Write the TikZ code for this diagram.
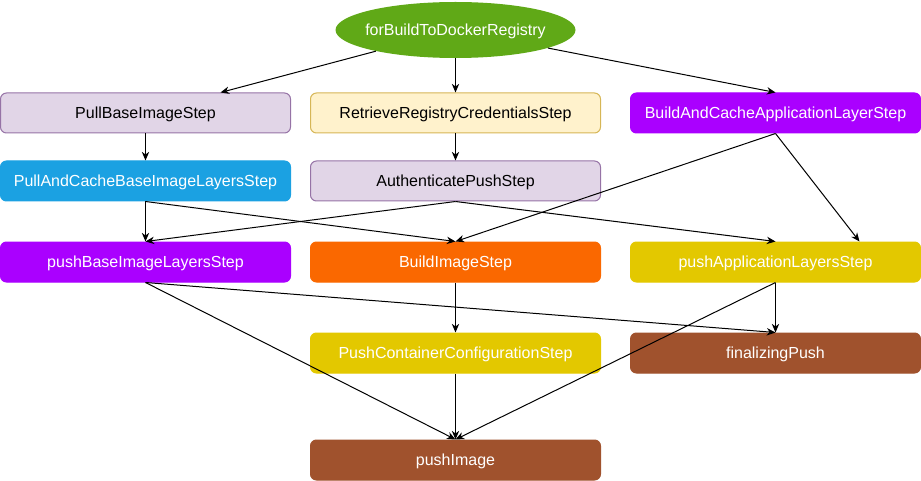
\documentclass[tikz,border=0pt]{standalone}
\usepackage{fontspec}
\setmainfont{Liberation Sans}
\usetikzlibrary{shapes.geometric,arrows.meta,calc}
\definecolor{cgreen}{HTML}{60A917}
\definecolor{cgreenS}{HTML}{2D7600}
\definecolor{clav}{HTML}{E1D5E7}
\definecolor{clavS}{HTML}{9673A6}
\definecolor{cyel}{HTML}{FFF2CC}
\definecolor{cyelS}{HTML}{D6B656}
\definecolor{cviol}{HTML}{AA00FF}
\definecolor{cblue}{HTML}{1BA1E2}
\definecolor{corange}{HTML}{FA6800}
\definecolor{cgold}{HTML}{E3C800}
\definecolor{cbrown}{HTML}{A0522D}
\begin{document}
\begin{tikzpicture}[x=0.75pt,y=-0.75pt,
  font=\fontsize{12pt}{14pt}\selectfont,
  every node/.style={text height=8.6pt,text depth=0pt},
  box/.style={rectangle,rounded corners=4.5pt,minimum width=217.5pt,minimum height=30pt,inner sep=0pt,line width=0.75pt},
  lightbox/.style={box,fill=#1,text=black},
  darkbox/.style={box,fill=#1,draw=#1,text=white},
  edge/.style={line width=0.75pt,-{Stealth[length=6.5pt,width=5.5pt,inset=2pt]}}]
\useasboundingbox (0,0) rectangle (921,481);
\node[ellipse,fill=cgreen,text=white,minimum width=180pt,minimum height=42pt,inner xsep=-8pt,inner ysep=0pt] (root) at (455.5,30) {forBuildToDockerRegistry};
\node[lightbox=clav,draw=clavS] (pbis) at (145.5,113) {PullBaseImageStep};
\node[lightbox=cyel,draw=cyelS] (rrcs) at (455.5,113) {RetrieveRegistryCredentialsStep};
\node[darkbox=cviol] (bacl) at (775.5,113) {BuildAndCacheApplicationLayerStep};
\node[darkbox=cblue] (pacb) at (145.5,181) {PullAndCacheBaseImageLayersStep};
\node[lightbox=clav,draw=clavS] (aps) at (455.5,181) {AuthenticatePushStep};
\node[darkbox=cviol] (pbil) at (145.5,262) {pushBaseImageLayersStep};
\node[darkbox=corange] (bis) at (455.5,262) {BuildImageStep};
\node[darkbox=cgold] (pal) at (775.5,262) {pushApplicationLayersStep};
\node[darkbox=cgold] (pccs) at (455.5,353) {PushContainerConfigurationStep};
\node[darkbox=cbrown] (fp) at (775.5,353) {finalizingPush};
\node[darkbox=cbrown] (pi) at (455.5,460) {pushImage};
\draw[edge] (root) -- ($(pbis.north)+(75,0)$);
\draw[edge] (root) -- (rrcs.north);
\draw[edge] (root) -- (bacl.north);
\draw[edge] (pbis.south) -- (pacb.north);
\draw[edge] (rrcs.south) -- (aps.north);
\draw[edge] (pacb.south) -- (pbil.north);
\draw[edge] (pacb.south) -- (bis.north);
\draw[edge] (aps.south) -- (pbil.north);
\draw[edge] (aps.south) -- (pal.north);
\draw[edge] (bacl.south) -- (bis.north);
\draw[edge] (bacl.south) -- ($(pal.north)+(84,0)$);
\draw[edge] (pbil.south) -- (fp.north);
\draw[edge] (pbil.south) -- (pi.north);
\draw[edge] (bis.south) -- (pccs.north);
\draw[edge] (pal.south) -- (fp.north);
\draw[edge] (pal.south) -- (pi.north);
\draw[edge] (pccs.south) -- (pi.north);
\end{tikzpicture}
\end{document}
